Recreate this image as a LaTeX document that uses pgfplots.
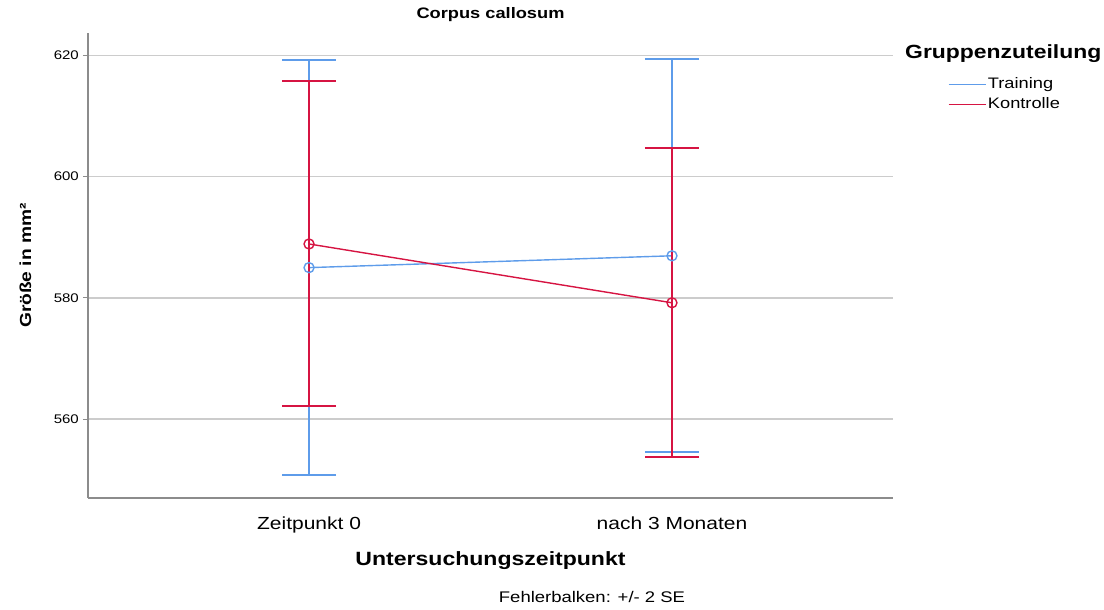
\documentclass[border=0pt]{standalone}
\usepackage{fontspec}
\setmainfont{Liberation Sans}[FakeStretch=1.2]
\usepackage{pgfplots}
\usepackage{pgfplotstable}
\pgfplotsset{compat=1.18}

\definecolor{training}{RGB}{94,156,234}
\definecolor{kontrolle}{RGB}{214,20,66}
\definecolor{gridgray}{RGB}{204,204,204}
\definecolor{axisgray}{RGB}{140,140,140}
\newcommand{\fs}[1]{\fontsize{#1bp}{#1bp}\selectfont}

% Mittelwerte und Fehlerbalken (+/- 2 SE)
\pgfplotstableread{
x y e
0 585.0 34.2
1 586.95 32.4
}\training
\pgfplotstableread{
x y e
0 588.9 26.8
1 579.2 25.5
}\kontrolle

\begin{document}
\begin{tikzpicture}
\useasboundingbox (-88bp,-112bp) rectangle (1016bp,498bp);
\begin{axis}[
  name=ax, at={(0,0)}, anchor=south west,
  scale only axis, width=805bp, height=465bp,
  xmin=-0.609, xmax=1.609, ymin=547.0, ymax=623.7,
  axis x line*=bottom, axis y line*=left,
  axis line style={axisgray, line width=1.5bp, -},
  xtick={0,1}, xticklabels={Zeitpunkt 0, nach 3 Monaten},
  ytick={560,580,600,620},
  major x tick style={draw=none},
  ytick style={axisgray, line width=1bp},
  tick align=outside, major tick length=5bp,
  ymajorgrids, major grid style={gridgray, line width=1.5bp},
  /pgf/number format/assume math mode=true,
  yticklabel style={font=\fs{12.5}, anchor=east, inner sep=0pt, xshift=-4bp},
  xticklabel style={font=\fs{17.5}, anchor=base, inner sep=0pt, yshift=-26.5bp},
  title={Corpus callosum},
  title style={font=\bfseries\fs{15.2}, at={(axis description cs:0.5,1)}, anchor=base, yshift=9bp, inner sep=0pt},
  xlabel={Untersuchungszeitpunkt},
  xlabel style={font=\bfseries\fs{19.2}, at={(axis description cs:0.5,0)}, anchor=base, yshift=-67bp, inner sep=0pt},
  ylabel={Größe in mm²},
  ylabel style={font=\bfseries\fs{16}, at={(axis description cs:-0.0708,0.5)}, anchor=base, inner sep=0pt},
  legend style={at={(axis description cs:1.068,0.9075)}, anchor=north west, draw=none, fill=none,
    inner sep=0pt, font=\fs{15.2}, nodes={inner sep=1.5bp, text height=11bp, text depth=3bp}, row sep=3bp},
  legend cell align=left,
  legend image code/.code={\draw[#1, line width=1.5bp] (0bp,0bp) -- (37bp,0bp);},
]
\addplot[training, line width=1.4bp, mark=o, mark size=5bp, mark options={training, line width=1.4bp},
  error bars/.cd, y dir=both, y explicit, error mark=|,
  error bar style={training, line width=2bp},
  error mark options={training, line width=2bp, mark size=27bp}]
  table[x=x, y=y, y error=e] {\training};
\addlegendentry{Training}
\addplot[kontrolle, line width=1.4bp, mark=o, mark size=5bp, mark options={kontrolle, line width=1.4bp},
  error bars/.cd, y dir=both, y explicit, error mark=|,
  error bar style={kontrolle, line width=2bp},
  error mark options={kontrolle, line width=2bp, mark size=27bp}]
  table[x=x, y=y, y error=e] {\kontrolle};
\addlegendentry{Kontrolle}
\end{axis}
\node[font=\bfseries\fs{19.1}, anchor=base west, inner sep=0pt] at ([xshift=817bp, yshift=-26bp]ax.north west) {Gruppenzuteilung};
\node[font=\fs{15.4}, anchor=base, inner sep=0pt] at ([xshift=504bp, yshift=-104bp]ax.south west) {Fehlerbalken: +/- 2 SE};
\end{tikzpicture}
\end{document}
